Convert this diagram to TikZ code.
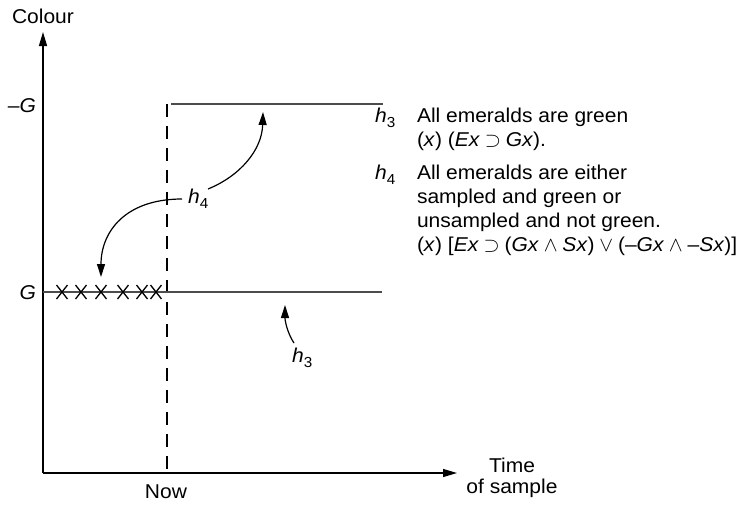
\documentclass[tikz,border=0pt]{standalone}
\usepackage{fontspec}
\setmainfont[FakeStretch=1.05]{Liberation Sans}
\usetikzlibrary{arrows.meta}
\newcommand{\hsub}[1]{\textit{h}\kern0.3pt\raisebox{-5pt}{\fontsize{14.5}{14.5}\selectfont #1}}
\newcommand{\opsp}[1]{\hspace{4.8pt}$#1$\hspace{4.8pt}}
\begin{document}
\begin{tikzpicture}[x=1pt,y=-1pt,
  lbl/.style={inner sep=0pt,outer sep=0pt,font=\fontsize{20}{24}\selectfont},
  axis/.style={line width=1.3pt,-{Triangle[length=14pt,width=8pt]}},
  hyp/.style={line width=1.8pt,black!70},
  nowline/.style={line width=1.2pt,dash pattern=on 13pt off 9pt},
  cross/.style={line width=1.3pt},
  pointer/.style={line width=1.2pt,-{Triangle[length=13pt,width=8pt]}}]
\useasboundingbox (0,0) rectangle (741,507);
% axes
\coordinate (O) at (43,473);
\coordinate (ytip) at (43,32);
\coordinate (xtip) at (457,473);
\draw[axis] (O) -- (ytip);
\draw[axis] (O) -- (xtip);
\node[lbl,anchor=base] (colour) at (43,23) {Colour};
\node[lbl,anchor=base] (now) at (166,498) {Now};
\node[lbl,anchor=base] (time) at (512,472) {Time};
\node[lbl,anchor=base] (ofs) at (512,493) {of sample};
\node[lbl,anchor=base east] (mG) at (36,112) {\textendash\textit{G}};
\node[lbl,anchor=base east] (G) at (36,299) {\textit{G}};
% now line
\coordinate (nowtop) at (167,104);
\coordinate (nowbot) at (167,473);
\draw[nowline] (nowtop) -- (nowbot);
% hypothesis lines
\coordinate (gl) at (43,292);
\coordinate (gr) at (382,292);
\coordinate (tl) at (171,104);
\coordinate (tr) at (383,104);
\draw[hyp] (gl) -- (gr);
\draw[hyp] (tl) -- (tr);
% crosses
\foreach \cx in {62,81,101,123,142,156}{
  \draw[cross] (\cx-5.5,285) -- (\cx+5.5,299) (\cx-5.5,299) -- (\cx+5.5,285);
}
% labels and pointers
\node[lbl,anchor=base west] (h4m) at (188,203) {\hsub{4}};
\node[lbl,anchor=base west] (h3m) at (292,362) {\hsub{3}};
\coordinate (h4a) at (182,199);
\coordinate (h4tipA) at (101,277);
\coordinate (h4b) at (208,189);
\coordinate (h4tipB) at (263,112);
\coordinate (h3a) at (294,343);
\coordinate (h3tip) at (285,305);
\draw[pointer] (h4a) .. controls (125,199) and (101,232) .. (h4tipA);
\draw[pointer] (h4b) .. controls (240,176) and (262,150) .. (h4tipB);
\draw[pointer] (h3a) .. controls (288,334) and (285,322) .. (h3tip);
% legend
\node[lbl,anchor=base west] (lh3) at (375,122) {\hsub{3}};
\node[lbl,anchor=base west] (t1) at (417,122) {All emeralds are green};
\node[lbl,anchor=base west] (t2) at (417,146) {(\textit{x\/}) (\textit{Ex\/}\opsp{\supset}\textit{Gx\/}).};
\node[lbl,anchor=base west] (lh4) at (375,179) {\hsub{4}};
\node[lbl,anchor=base west] (t3) at (417,179) {All emeralds are either};
\node[lbl,anchor=base west] (t4) at (417,203) {sampled and green or};
\node[lbl,anchor=base west] (t5) at (417,227) {unsampled and not green.};
\node[lbl,anchor=base west] (t6) at (417,251) {(\textit{x\/}) [\textit{Ex\/}\opsp{\supset}(\textit{Gx\/}\opsp{\wedge}\textit{Sx\/})\opsp{\vee}(\textendash\textit{Gx\/}\opsp{\wedge}\textendash\textit{Sx\/})]};
\end{tikzpicture}
\end{document}
